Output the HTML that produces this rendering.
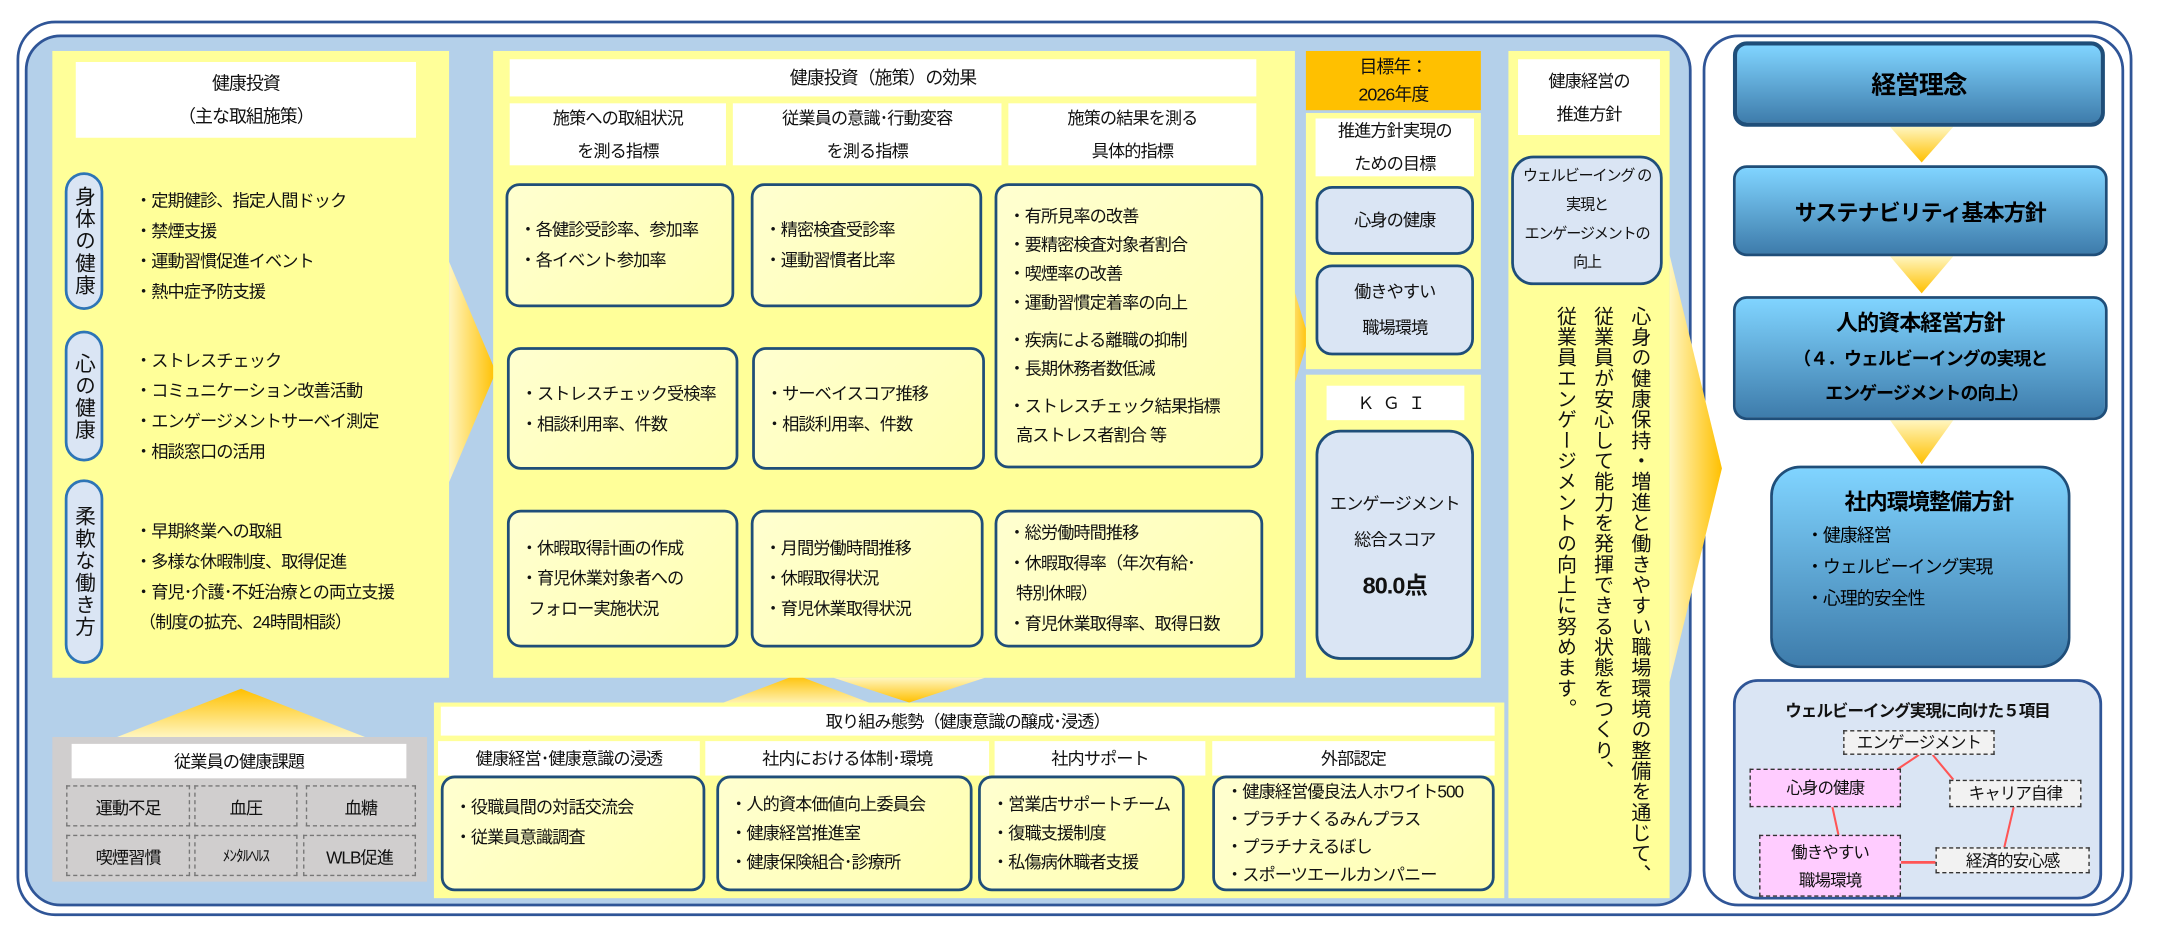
<!DOCTYPE html>
<html><head><meta charset="utf-8">
<style>
html,body{margin:0;padding:0;background:#fff;width:2160px;height:945px;overflow:hidden}
#w{position:absolute;left:0;top:0;width:1568px;height:686px;transform:scale(1.37755);transform-origin:0 0;font-family:"Liberation Sans","Noto Sans CJK JP",sans-serif;font-size:12.5px;color:#111;letter-spacing:-0.7px}
.a{position:absolute;box-sizing:border-box}
.y{background:#ffff99}
.wh{background:#fff;text-align:center;display:flex;align-items:center;justify-content:center;flex-direction:column;line-height:24px}
.bx{border:2px solid #1f4e79;border-radius:10px;background:linear-gradient(135deg,#ffffd0,#ffffb0);padding:0 0 0 8px;display:flex;flex-direction:column;justify-content:center;line-height:22px}
.pill{background:#dae5f4;border:2px solid #2e75b6;border-radius:14px;writing-mode:vertical-rl;text-orientation:upright;display:flex;align-items:center;justify-content:center;font-size:15px;letter-spacing:1px}
.lb{background:#dae5f4;border:2px solid #1f4e79;border-radius:12px;text-align:center;display:flex;flex-direction:column;align-items:center;justify-content:center;line-height:26px}
.items{line-height:22px}
.dc{border:1px dashed #777;display:flex;align-items:center;justify-content:center}
.bl{border:3px solid #1f4e79;border-radius:10px;background:linear-gradient(#80d4ff,#3e7cab);color:#000;font-weight:bold;display:flex;flex-direction:column;align-items:center;justify-content:center;font-size:16px}
.nd{border:1px dashed #333;display:flex;align-items:center;justify-content:center;text-align:center;font-size:12px;line-height:20px}
</style></head><body><div id="w">
<div class="a" style="left:12px;top:15px;width:1536px;height:650px;border:2px solid #2f5597;border-radius:28px"></div>
<div class="a" style="left:18px;top:25px;width:1210px;height:633px;background:#b4d0ea;border:2px solid #2f5597;border-radius:26px"></div>
<div class="a" style="left:1236px;top:25px;width:306px;height:633px;border:2px solid #2f5597;border-radius:26px;background:#fff"></div>

<svg class="a" style="left:0;top:0" width="1568" height="686">
<defs>
<linearGradient id="gr" x1="0" x2="1" y1="0" y2="0"><stop offset="0" stop-color="#fff6c0"/><stop offset="1" stop-color="#ffc000"/></linearGradient>
<linearGradient id="gd" x1="0" x2="0" y1="0" y2="1"><stop offset="0" stop-color="#fff6c0"/><stop offset="1" stop-color="#ffc000"/></linearGradient>
<linearGradient id="gu" x1="0" x2="0" y1="1" y2="0"><stop offset="0" stop-color="#fff6c0"/><stop offset="1" stop-color="#ffc000"/></linearGradient>
</defs>
<polygon points="326,190 360,270 326,350" fill="url(#gr)"/>
<polygon points="930,180 950,245 930,310" fill="url(#gr)"/>
<polygon points="1212,185 1250,340 1212,495" fill="url(#gr)"/>
<polygon points="85,535 175,500 265,535" fill="url(#gu)"/>
<polygon points="520,512 578,490 636,512" fill="url(#gu)"/>
<polygon points="605,492 660,510 715,492" fill="url(#gd)"/>
<polygon points="1372,92 1418,92 1395,118" fill="url(#gd)"/>
<polygon points="1372,186 1418,186 1395,213" fill="url(#gd)"/>
<polygon points="1372,305 1418,305 1395,337" fill="url(#gd)"/>
</svg>

<div class="a y" style="left:38px;top:37px;width:288px;height:455px"></div>
<div class="a wh" style="left:55px;top:45px;width:247px;height:55px;font-size:13px">健康投資<br>（主な取組施策）</div>
<div class="a pill" style="left:47px;top:125px;width:28px;height:100px">身体の健康</div>
<div class="a pill" style="left:47px;top:240px;width:28px;height:95px">心の健康</div>
<div class="a pill" style="left:47px;top:348px;width:28px;height:134px">柔軟な働き方</div>
<div class="a items" style="left:98px;top:135px">・定期健診、指定人間ドック<br>・禁煙支援<br>・運動習慣促進イベント<br>・熱中症予防支援</div>
<div class="a items" style="left:98px;top:251px">・ストレスチェック<br>・コミュニケーション改善活動<br>・エンゲージメントサーベイ測定<br>・相談窓口の活用</div>
<div class="a items" style="left:98px;top:375px">・早期終業への取組<br>・多様な休暇制度、取得促進<br>・育児･介護･不妊治療との両立支援<br>&nbsp;（制度の拡充、24時間相談）</div>

<div class="a y" style="left:358px;top:37px;width:582px;height:455px"></div>
<div class="a wh" style="left:370px;top:43px;width:542px;height:27px;font-size:13px">健康投資（施策）の効果</div>
<div class="a wh" style="left:370px;top:75px;width:157px;height:45px">施策への取組状況<br>を測る指標</div>
<div class="a wh" style="left:532px;top:75px;width:195px;height:45px">従業員の意識･行動変容<br>を測る指標</div>
<div class="a wh" style="left:732px;top:75px;width:180px;height:45px">施策の結果を測る<br>具体的指標</div>
<div class="a bx" style="left:367px;top:133px;width:166px;height:90px">・各健診受診率、参加率<br>・各イベント参加率</div>
<div class="a bx" style="left:545px;top:133px;width:168px;height:90px">・精密検査受診率<br>・運動習慣者比率</div>
<div class="a bx" style="left:722px;top:133px;width:195px;height:207px;line-height:21px">・有所見率の改善<br>・要精密検査対象者割合<br>・喫煙率の改善<br>・運動習慣定着率の向上<br><span style="height:6px;display:block"></span>・疾病による離職の抑制<br>・長期休務者数低減<br><span style="height:6px;display:block"></span>・ストレスチェック結果指標<br>&nbsp;&nbsp;高ストレス者割合 等</div>
<div class="a bx" style="left:368px;top:252px;width:168px;height:89px">・ストレスチェック受検率<br>・相談利用率、件数</div>
<div class="a bx" style="left:546px;top:252px;width:169px;height:89px">・サーベイスコア推移<br>・相談利用率、件数</div>
<div class="a bx" style="left:368px;top:370px;width:168px;height:100px">・休暇取得計画の作成<br>・育児休業対象者への<br>&nbsp;&nbsp;フォロー実施状況</div>
<div class="a bx" style="left:545px;top:370px;width:169px;height:100px">・月間労働時間推移<br>・休暇取得状況<br>・育児休業取得状況</div>
<div class="a bx" style="left:722px;top:370px;width:195px;height:100px">・総労働時間推移<br>・休暇取得率（年次有給･<br>&nbsp;&nbsp;特別休暇）<br>・育児休業取得率、取得日数</div>

<div class="a" style="left:948px;top:37px;width:127px;height:43px;background:#ffc000;text-align:center;line-height:20px;padding-top:2px;font-size:13px">目標年：<br>2026年度</div>
<div class="a y" style="left:948px;top:82px;width:127px;height:186px"></div>
<div class="a wh" style="left:955px;top:86px;width:115px;height:42px">推進方針実現の<br>ための目標</div>
<div class="a lb" style="left:955px;top:135px;width:115px;height:50px">心身の健康</div>
<div class="a lb" style="left:955px;top:192px;width:115px;height:66px">働きやすい<br>職場環境</div>
<div class="a y" style="left:948px;top:272px;width:127px;height:220px"></div>
<div class="a wh" style="left:963px;top:280px;width:100px;height:25px;letter-spacing:6px">ＫＧＩ</div>
<div class="a lb" style="left:955px;top:312px;width:115px;height:167px;border-radius:18px">エンゲージメント<br>総合スコア<br><b style="font-size:17px;margin-top:8px">80.0点</b></div>

<div class="a y" style="left:1095px;top:37px;width:117px;height:615px"></div>
<div class="a wh" style="left:1102px;top:43px;width:103px;height:55px">健康経営の<br>推進方針</div>
<div class="a lb" style="left:1097px;top:113px;width:110px;height:94px;line-height:21px;font-size:11px;letter-spacing:-0.9px;border-radius:16px">ウェルビーイング の<br>実現と<br>エンゲージメントの<br>向上</div>
<div class="a" style="left:1118px;top:222px;width:85px;height:425px;writing-mode:vertical-rl;font-size:14.5px;line-height:27px;letter-spacing:0.5px">心身の健康保持・増進と働きやすい職場環境の整備を通じて、<br>従業員が安心して能力を発揮できる状態をつくり、<br>従業員エンゲージメントの向上に努めます。</div>

<div class="a" style="left:38px;top:535px;width:272px;height:105px;background:#d0cece"></div>
<div class="a wh" style="left:52px;top:540px;width:243px;height:25px">従業員の健康課題</div>
<div class="a dc" style="left:48px;top:570px;width:90px;height:30px">運動不足</div>
<div class="a dc" style="left:141px;top:570px;width:75px;height:30px">血圧</div>
<div class="a dc" style="left:222px;top:570px;width:80px;height:30px">血糖</div>
<div class="a dc" style="left:48px;top:606px;width:90px;height:30px">喫煙習慣</div>
<div class="a dc" style="left:141px;top:606px;width:75px;height:30px;font-size:11px">ﾒﾝﾀﾙﾍﾙｽ</div>
<div class="a dc" style="left:220px;top:606px;width:82px;height:30px">WLB促進</div>

<div class="a y" style="left:315px;top:510px;width:777px;height:142px"></div>
<div class="a wh" style="left:320px;top:513px;width:765px;height:21px">取り組み態勢（健康意識の醸成･浸透）</div>
<div class="a wh" style="left:318px;top:538px;width:190px;height:25px">健康経営･健康意識の浸透</div>
<div class="a wh" style="left:512px;top:538px;width:206px;height:25px">社内における体制･環境</div>
<div class="a wh" style="left:722px;top:538px;width:153px;height:25px">社内サポート</div>
<div class="a wh" style="left:880px;top:538px;width:205px;height:25px">外部認定</div>
<div class="a bx" style="left:320px;top:563px;width:192px;height:84px;justify-content:flex-start;padding-top:10px">・役職員間の対話交流会<br>・従業員意識調査</div>
<div class="a bx" style="left:520px;top:563px;width:186px;height:84px;line-height:21px">・人的資本価値向上委員会<br>・健康経営推進室<br>・健康保険組合･診療所</div>
<div class="a bx" style="left:710px;top:563px;width:150px;height:84px;line-height:21px">・営業店サポートチーム<br>・復職支援制度<br>・私傷病休職者支援</div>
<div class="a bx" style="left:880px;top:563px;width:205px;height:84px;line-height:20px">・健康経営優良法人ホワイト500<br>・プラチナくるみんプラス<br>・プラチナえるぼし<br>・スポーツエールカンパニー</div>

<div class="a bl" style="left:1258px;top:30px;width:270px;height:62px;font-size:18px">経営理念</div>
<div class="a bl" style="left:1258px;top:120px;width:272px;height:66px;border-width:2px">サステナビリティ基本方針</div>
<div class="a bl" style="left:1258px;top:215px;width:272px;height:90px;border-width:2px;line-height:25px">人的資本経営方針<span style="font-size:13px">（４．ウェルビーイングの実現と<br>&nbsp;&nbsp;&nbsp;&nbsp;&nbsp;&nbsp;&nbsp;&nbsp;エンゲージメントの向上）</span></div>
<div class="a bl" style="left:1285px;top:338px;width:218px;height:147px;border-width:2px;border-radius:22px;align-items:flex-start;justify-content:flex-start;padding:14px 0 0 24px;line-height:23px"><span style="margin-left:28px">社内環境整備方針</span><span style="font-weight:normal;font-size:13px">・健康経営<br>・ウェルビーイング実現<br>・心理的安全性</span></div>
<div class="a" style="left:1258px;top:493px;width:268px;height:160px;background:#dae5f4;border:2px solid #2f5597;border-radius:18px"></div>
<div class="a" style="left:1258px;top:507px;width:268px;text-align:center;font-weight:bold;font-size:12px">ウェルビーイング実現に向けた５項目</div>
<svg class="a" style="left:0;top:0" width="1568" height="686">
<line x1="1393" y1="548" x2="1375" y2="560" stroke="#f55" stroke-width="1.5"/>
<line x1="1403" y1="548" x2="1418" y2="566" stroke="#f55" stroke-width="1.5"/>
<line x1="1330" y1="585" x2="1335" y2="608" stroke="#f55" stroke-width="1.5"/>
<line x1="1462" y1="585" x2="1455" y2="615" stroke="#f55" stroke-width="1.5"/>
<line x1="1380" y1="626" x2="1405" y2="626" stroke="#f55" stroke-width="2"/>
</svg>
<div class="a nd" style="left:1338px;top:530px;width:110px;height:18px;background:#f2f2f2">エンゲージメント</div>
<div class="a nd" style="left:1270px;top:558px;width:110px;height:28px;background:#ffccff">心身の健康</div>
<div class="a nd" style="left:1415px;top:566px;width:96px;height:20px;background:#f2f2f2">キャリア自律</div>
<div class="a nd" style="left:1277px;top:606px;width:103px;height:45px;background:#ffccff">働きやすい<br>職場環境</div>
<div class="a nd" style="left:1405px;top:615px;width:112px;height:19px;background:#f2f2f2">経済的安心感</div>
</div></body></html>
